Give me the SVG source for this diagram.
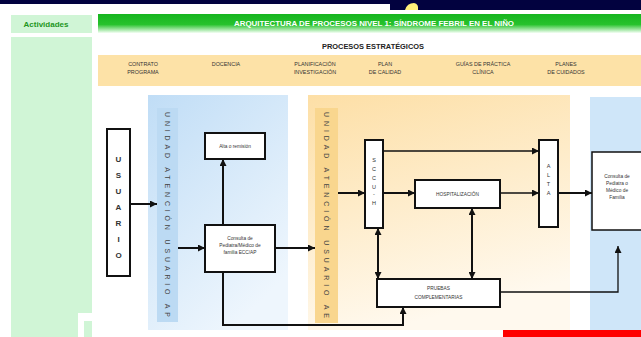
<svg xmlns="http://www.w3.org/2000/svg" width="641" height="337" viewBox="0 0 641 337">
  <defs>
    <linearGradient id="hdr" x1="0" y1="0" x2="0" y2="1">
      <stop offset="0" stop-color="#17b51f"/>
      <stop offset="0.55" stop-color="#26c22c"/>
      <stop offset="1" stop-color="#f4fff4"/>
    </linearGradient>
    <linearGradient id="bluePanel" x1="0" y1="0" x2="0.6" y2="1">
      <stop offset="0" stop-color="#c0ddf6"/>
      <stop offset="1" stop-color="#eef6fd"/>
    </linearGradient>
    <linearGradient id="orangePanel" x1="0" y1="0" x2="0.3" y2="1">
      <stop offset="0" stop-color="#fddfa6"/>
      <stop offset="1" stop-color="#fff9ee"/>
    </linearGradient>
    <marker id="ah" viewBox="0 0 8 8" refX="8" refY="4" markerWidth="7" markerHeight="7" markerUnits="userSpaceOnUse" orient="auto-start-reverse">
      <path d="M0,0 L8,4 L0,8 z" fill="#111"/>
    </marker>
    <style>
      .box { fill: #ffffff; stroke: #111; stroke-width: 2; }
      .lbl { font-family: "Liberation Sans", Arial, sans-serif; fill: #333; text-anchor: middle; }
      .tiny { font-size: 4.8px; }
      .band { font-size: 5.4px; fill: #333; }
      .strip { font-family: "Liberation Sans", Arial, sans-serif; font-size: 7px; fill: #444; }
      .conn { fill: none; stroke: #111; stroke-width: 2; }
      .thin { stroke-width: 1.3; }
    </style>
  </defs>

  <!-- page -->
  <rect width="641" height="337" fill="#ffffff"/>

  <!-- top banner -->
  <rect x="0" y="0" width="641" height="4" fill="#02023f"/>
  <rect x="390" y="0" width="251" height="10" fill="#02023f"/>
  <path d="M405,10 Q407,3 414,3 Q419,4 418,10 z" fill="#fff07a"/>

  <!-- activities column -->
  <g id="actividades">
    <rect x="11" y="15" width="81" height="18" fill="#d0f5d6"/>
    <text x="46" y="27" font-family="Liberation Sans, Arial, sans-serif" font-size="8" font-weight="bold" fill="#229622" text-anchor="middle">Actividades</text>
    <rect x="11" y="37" width="81" height="300" fill="#d0f5d6"/>
    <rect x="78" y="313" width="14" height="24" fill="#ffffff"/>
    <rect x="84" y="321" width="8" height="16" fill="#d0f5d6"/>
  </g>

  <!-- title bar -->
  <g id="titulo">
    <rect x="98" y="14" width="543" height="19" fill="url(#hdr)"/>
    <text x="374" y="26" font-family="Liberation Sans, Arial, sans-serif" font-size="7.5" font-weight="bold" fill="#ffffff" text-anchor="middle" textLength="280" lengthAdjust="spacingAndGlyphs">ARQUITECTURA DE PROCESOS NIVEL 1: SÍNDROME FEBRIL EN EL NIÑO</text>
  </g>

  <!-- strategic processes -->
  <g id="estrategicos">
    <text x="373" y="49" font-family="Liberation Sans, Arial, sans-serif" font-size="7" font-weight="bold" fill="#222" text-anchor="middle" textLength="102" lengthAdjust="spacingAndGlyphs">PROCESOS ESTRATÉGICOS</text>
    <rect x="98" y="55" width="543" height="31" fill="#fde2a7"/>
    <text class="lbl band" x="143" y="66">CONTRATO</text>
    <text class="lbl band" x="143" y="74">PROGRAMA</text>
    <text class="lbl band" x="226" y="66">DOCENCIA</text>
    <text class="lbl band" x="315" y="66">PLANIFICACIÓN</text>
    <text class="lbl band" x="315" y="74">INVESTIGACIÓN</text>
    <text class="lbl band" x="385" y="66">PLAN</text>
    <text class="lbl band" x="385" y="74">DE CALIDAD</text>
    <text class="lbl band" x="483" y="66">GUÍAS DE PRÁCTICA</text>
    <text class="lbl band" x="483" y="74">CLÍNICA</text>
    <text class="lbl band" x="566" y="66">PLANES</text>
    <text class="lbl band" x="566" y="74">DE CUIDADOS</text>
  </g>

  <!-- panels -->
  <g id="panel-ap">
    <rect x="148" y="95" width="140" height="235" fill="url(#bluePanel)"/>
    <rect x="157" y="108" width="21" height="214" fill="#bcdaf3"/>
    <text class="strip" transform="translate(165,112) rotate(90)" textLength="205" lengthAdjust="spacing">UNIDAD ATENCIÓN USUARIO AP</text>
  </g>
  <g id="panel-ae">
    <rect x="308" y="95" width="262" height="235" fill="url(#orangePanel)"/>
    <rect x="315" y="108" width="23" height="215" fill="#f9d68e"/>
    <text class="strip" transform="translate(324,112) rotate(90)" textLength="206" lengthAdjust="spacing">UNIDAD ATENCIÓN USUARIO AE</text>
  </g>
  <g id="panel-ap-final">
    <rect x="590" y="97" width="51" height="240" fill="#cfe6f9"/>
  </g>

  <!-- red marker bar -->
  <rect x="503" y="330" width="138" height="7" fill="#ff0000"/>

  <!-- connectors -->
  <g id="connectors">
    <path class="conn" d="M130,204 H157" marker-end="url(#ah)"/>
    <path class="conn" d="M178,248 H205" marker-end="url(#ah)"/>
    <path class="conn" d="M223,225 V159" marker-end="url(#ah)"/>
    <path class="conn" d="M275,248 H315" marker-end="url(#ah)"/>
    <path class="conn" d="M223,272 V325 H403 V307" marker-end="url(#ah)"/>
    <path class="conn" d="M338,193 H365" marker-end="url(#ah)"/>
    <path class="conn" d="M383,193 H415" marker-end="url(#ah)"/>
    <path class="conn thin" d="M383,151 H539" marker-end="url(#ah)"/>
    <path class="conn thin" d="M500,193 H539" marker-end="url(#ah)"/>
    <path class="conn" d="M558,193 H592" marker-end="url(#ah)"/>
    <path class="conn" d="M472,208 V279" marker-start="url(#ah)" marker-end="url(#ah)"/>
    <path class="conn" d="M378,228 V279" marker-start="url(#ah)" marker-end="url(#ah)"/>
    <path class="conn thin" d="M500,292 H618 V246" marker-end="url(#ah)"/>
  </g>

  <!-- nodes -->
  <g id="usuario">
    <rect class="box" x="107" y="129" width="23" height="147"/>
    <g font-family="Liberation Sans, Arial, sans-serif" font-size="8" font-weight="bold" fill="#333" text-anchor="middle">
      <text x="118.5" y="162">U</text>
      <text x="118.5" y="178">S</text>
      <text x="118.5" y="194">U</text>
      <text x="118.5" y="210">A</text>
      <text x="118.5" y="226">R</text>
      <text x="118.5" y="242">I</text>
      <text x="118.5" y="258">O</text>
    </g>
  </g>

  <g id="alta-remision">
    <rect class="box" x="205" y="133" width="60" height="26"/>
    <text class="lbl tiny" x="235" y="148">Alta o remisión</text>
  </g>

  <g id="consulta-ap">
    <rect class="box" x="205" y="225" width="70" height="47"/>
    <text class="lbl tiny" x="240" y="240">Consulta de</text>
    <text class="lbl tiny" x="240" y="247">Pediatra/Médico de</text>
    <text class="lbl tiny" x="240" y="254">familia ECC/AP</text>
  </g>

  <g id="sccu-h">
    <rect class="box" x="365" y="140" width="18" height="88"/>
    <g font-family="Liberation Sans, Arial, sans-serif" font-size="5.5" fill="#333" text-anchor="middle">
      <text x="374" y="162">S</text>
      <text x="374" y="171">C</text>
      <text x="374" y="180">C</text>
      <text x="374" y="189">U</text>
      <text x="374" y="196">-</text>
      <text x="374" y="205">H</text>
    </g>
  </g>

  <g id="hospitalizacion">
    <rect class="box" x="415" y="180" width="85" height="28"/>
    <text class="lbl tiny" x="457.5" y="196">HOSPITALIZACIÓN</text>
  </g>

  <g id="alta">
    <rect class="box" x="539" y="140" width="19" height="87"/>
    <g font-family="Liberation Sans, Arial, sans-serif" font-size="5.5" fill="#333" text-anchor="middle">
      <text x="548.5" y="168">A</text>
      <text x="548.5" y="177">L</text>
      <text x="548.5" y="186">T</text>
      <text x="548.5" y="195">A</text>
    </g>
  </g>

  <g id="pruebas">
    <rect class="box" x="377" y="279" width="123" height="28"/>
    <text class="lbl tiny" x="438.5" y="290">PRUEBAS</text>
    <text class="lbl tiny" x="438.5" y="299">COMPLEMENTARIAS</text>
  </g>

  <g id="consulta-final">
    <rect x="592" y="152" width="52" height="78" fill="#ffffff" stroke="#111" stroke-width="1.5"/>
    <text class="lbl tiny" x="617" y="178">Consulta de</text>
    <text class="lbl tiny" x="617" y="185">Pediatra o</text>
    <text class="lbl tiny" x="617" y="192">Médico de</text>
    <text class="lbl tiny" x="617" y="199">Familia</text>
  </g>
</svg>
